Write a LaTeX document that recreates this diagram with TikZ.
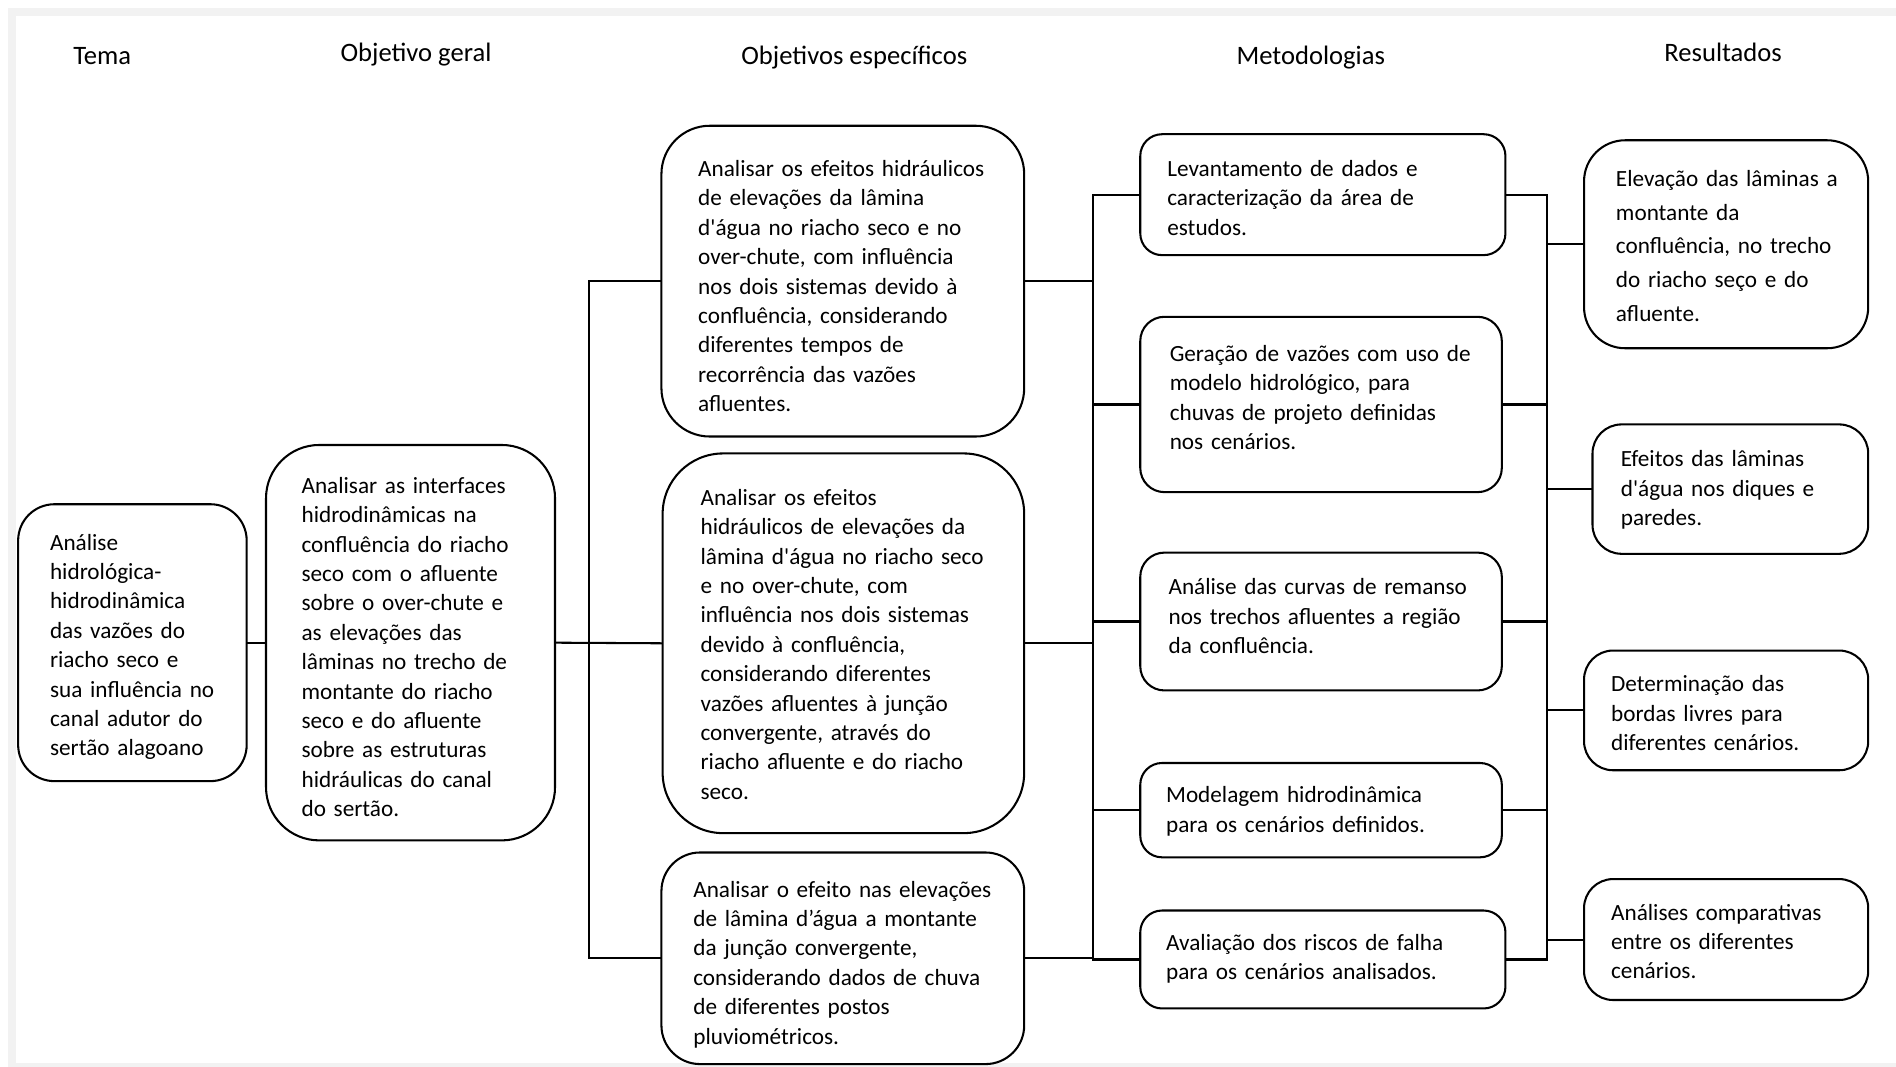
\documentclass[tikz,border=0pt]{standalone}
\usepackage{fontspec}
\setmainfont{Carlito}[Ligatures=TeXOff]
\definecolor{framegray}{HTML}{F2F2F2}
\begin{document}
\begin{tikzpicture}[x=0.5pt,y=-0.5pt,
  box/.style={draw=black, line width=0.85pt, inner sep=0pt, outer sep=0pt, fill=white},
  txt/.style={inner sep=0pt, anchor=base west, align=left, text width=200pt, font=\fontsize{9.6}{12.15}\selectfont},
  txtb/.style={inner sep=0pt, anchor=base west, align=left, text width=200pt, font=\fontsize{9.6}{14}\selectfont},
  head/.style={inner sep=0pt, anchor=base, font=\fontsize{11}{13}\selectfont},
  conn/.style={draw=black, line width=0.85pt}]
\useasboundingbox (0,0) rectangle (1568,882);
\fill[white] (0,0) rectangle (1568,882);
\fill[framegray] (7,7) rectangle (1568,882);
\fill[white] (13,13) rectangle (1568,879);

% headings
\node[head] (hTema) at (84.5,53) {Tema};
\node[head] (hGeral) at (344,51) {Objetivo geral};
\node[head] (hEsp) at (706.5,53) {Objetivos específicos};
\node[head] (hMet) at (1084,53) {Metodologias};
\node[head] (hRes) at (1425,51) {Resultados};

% boxes
\node[box, rounded corners=15pt, minimum width=94.5pt, minimum height=114.5pt] (b1) at (109.5,531.5) {};
\node[box, rounded corners=22pt, minimum width=119.5pt, minimum height=163.5pt] (b2) at (339.5,531.5) {};
\node[box, rounded corners=20pt, minimum width=150pt, minimum height=128.5pt] (b3) at (697,232.5) {};
\node[box, rounded corners=25pt, minimum width=149.5pt, minimum height=157pt] (b4) at (697.5,532) {};
\node[box, rounded corners=16pt, minimum width=150pt, minimum height=87.5pt] (b5) at (697,792.5) {};
\node[box, rounded corners=9pt, minimum width=151pt, minimum height=50pt] (b6) at (1094,161) {};
\node[box, rounded corners=10pt, minimum width=149.5pt, minimum height=72.5pt] (b7) at (1092.5,334.5) {};
\node[box, rounded corners=10pt, minimum width=149.5pt, minimum height=57pt] (b8) at (1092.5,514) {};
\node[box, rounded corners=9pt, minimum width=149.5pt, minimum height=39pt] (b9) at (1092.5,670) {};
\node[box, rounded corners=9pt, minimum width=151pt, minimum height=40.5pt] (b10) at (1094,793.5) {};
\node[box, rounded corners=17pt, minimum width=117.5pt, minimum height=86pt] (b11) at (1427.5,202) {};
\node[box, rounded corners=12pt, minimum width=114pt, minimum height=53.5pt] (b12) at (1431,404.5) {};
\node[box, rounded corners=12pt, minimum width=117.5pt, minimum height=49.5pt] (b13) at (1427.5,587.5) {};
\node[box, rounded corners=12pt, minimum width=117.5pt, minimum height=50pt] (b14) at (1427.5,777) {};

% texts
\node[txt] (t1) at (41,455) {Análise\\hidrológica-\\hidrodinâmica\\das vazões do\\riacho seco e\\sua influência no\\canal adutor do\\sertão alagoano};
\node[txt] (t2) at (249,408) {Analisar as interfaces\\hidrodinâmicas na\\confluência do riacho\\seco com o afluente\\sobre o over-chute e\\as elevações das\\lâminas no trecho de\\montante do riacho\\seco e do afluente\\sobre as estruturas\\hidráulicas do canal\\do sertão.};
\node[txt] (t3) at (577,146) {Analisar os efeitos hidráulicos\\de elevações da lâmina\\d'água no riacho seco e no\\over-chute, com influência\\nos dois sistemas devido à\\confluência, considerando\\diferentes tempos de\\recorrência das vazões\\afluentes.};
\node[txt] (t4) at (579,418) {Analisar os efeitos\\hidráulicos de elevações da\\lâmina d'água no riacho seco\\e no over-chute, com\\influência nos dois sistemas\\devido à confluência,\\considerando diferentes\\vazões afluentes à junção\\convergente, através do\\riacho afluente e do riacho\\seco.};
\node[txt] (t5) at (573,742) {Analisar o efeito nas elevações\\de lâmina d’água a montante\\da junção convergente,\\considerando dados de chuva\\de diferentes postos\\pluviométricos.};
\node[txt] (t6) at (965,146) {Levantamento de dados e\\caracterização da área de\\estudos.};
\node[txt] (t7) at (967,299) {Geração de vazões com uso de\\modelo hidrológico, para\\chuvas de projeto definidas\\nos cenários.};
\node[txt] (t8) at (966,492) {Análise das curvas de remanso\\nos trechos afluentes a região\\da confluência.};
\node[txt] (t9) at (964,664) {Modelagem hidrodinâmica\\para os cenários definidos.};
\node[txt] (t10) at (964,786) {Avaliação dos riscos de falha\\para os cenários analisados.};
\node[txtb] (t11) at (1336,154) {Elevação das lâminas a\\montante da\\confluência, no trecho\\do riacho seço e do\\afluente.};
\node[txt] (t12) at (1340,386) {Efeitos das lâminas\\d'água nos diques e\\paredes.};
\node[txt] (t13) at (1332,572) {Determinação das\\bordas livres para\\diferentes cenários.};
\node[txt] (t14) at (1332,761) {Análises comparativas\\entre os diferentes\\cenários.};

% bus coordinates
\coordinate (j1) at (487,532);
\coordinate (j2) at (904,532);
\coordinate (j3) at (1279,532);

% connectors
\draw[conn] (b1.east) -- (b2.west);
\draw[conn] (b2.east) -- (b4.west);
\draw[conn] (b3.west) -- (b3.west -| j1) -- (b5.west -| j1) -- (b5.west);

\draw[conn] (b3.east) -- (b3.east -| j2);
\draw[conn] (b4.east) -- (b4.east -| j2);
\draw[conn] (b5.east) -- (b5.east -| j2);
\draw[conn] (b6.west) -- (b6.west -| j2) -- (b10.west -| j2) -- (b10.west);
\draw[conn] (b7.west) -- (b7.west -| j2);
\draw[conn] (b8.west) -- (b8.west -| j2);
\draw[conn] (b9.west) -- (b9.west -| j2);

\draw[conn] (b6.east) -- (b6.east -| j3) -- (b10.east -| j3) -- (b10.east);
\draw[conn] (b7.east) -- (b7.east -| j3);
\draw[conn] (b8.east) -- (b8.east -| j3);
\draw[conn] (b9.east) -- (b9.east -| j3);
\draw[conn] (b11.west) -- (b11.west -| j3);
\draw[conn] (b12.west) -- (b12.west -| j3);
\draw[conn] (b13.west) -- (b13.west -| j3);
\draw[conn] (b14.west) -- (b14.west -| j3);
\end{tikzpicture}
\end{document}
